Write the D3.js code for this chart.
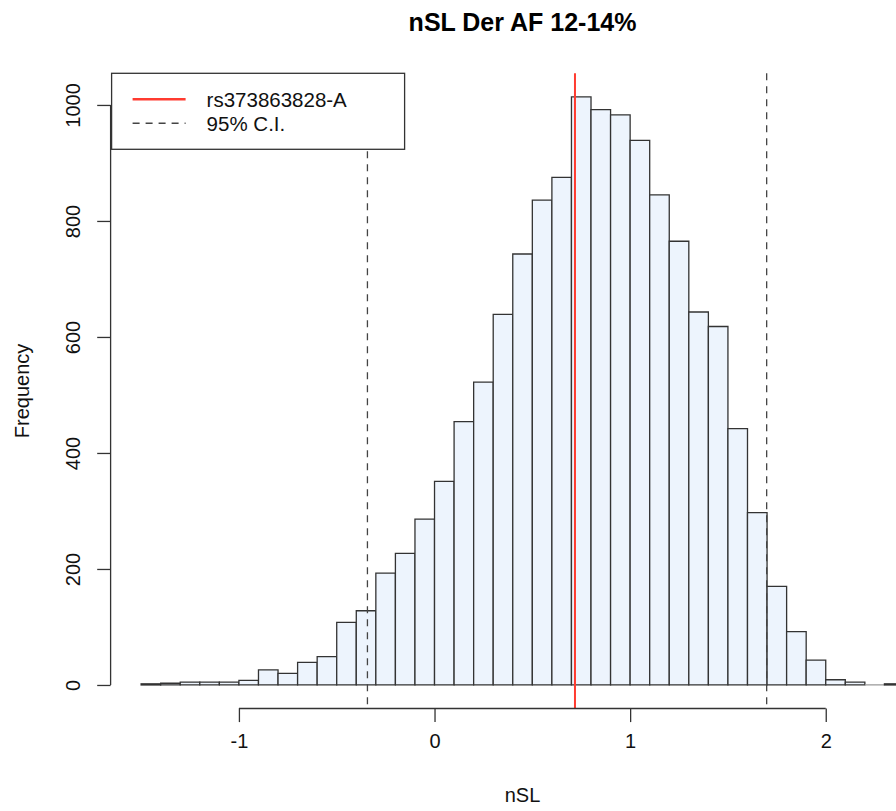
<!DOCTYPE html>
<html>
<head>
<meta charset="utf-8">
<script src="https://cdn.jsdelivr.net/npm/d3@7"></script>
<style>
  body { margin: 0; background: #fff; }
  svg { display: block; font-family: "Liberation Sans", Arial, Helvetica, sans-serif; }
</style>
</head>
<body>
<svg id="chart"></svg>
<script>
// histogram data: 0.1 wide bins starting at -1.5
const binStart = -1.5;
const binWidth = 0.1;
const counts = [2, 3, 5, 5, 5, 8, 26, 20, 39, 49, 108, 128, 193, 227, 286, 351, 454, 522,
                639, 743, 836, 875, 1014, 992, 983, 939, 845, 765, 643, 618, 442, 297,
                170, 92, 43, 9, 5, 0, 2];
const xTicks = [-1, 0, 1, 2];
const yTicks = [0, 200, 400, 600, 800, 1000];
const snpValue = 0.718;
const ciBounds = [-0.343, 1.698];
const legendLabels = ["rs373863828-A", "95% C.I."];
const title = "nSL Der AF 12-14%";
const xLabel = "nSL";
const yLabel = "Frequency";

const config = {
    width: 896, height: 811,
    left: 110.6, right: 934.5, top: 73.3, bottom: 708.5,
    fill: "#edf4fd", stroke: "#333", red: "#ff3b30", dash: "#444"
};

const bins = counts.map((c, i) => ({x0: binStart + i * binWidth, x1: binStart + (i + 1) * binWidth, n: c}));
const xMin = bins[0].x0, xMax = bins[bins.length - 1].x1;
const yMaxC = d3.max(counts);

const svg = d3.select("#chart")
    .attr("width", config.width)
    .attr("height", config.height);

// R style 4% axis extension
const xScale = d3.scaleLinear()
    .domain([xMin - 0.04 * (xMax - xMin), xMax + 0.04 * (xMax - xMin)])
    .range([config.left, config.right]);
const yScale = d3.scaleLinear()
    .domain([-0.04 * yMaxC, 1.04 * yMaxC])
    .range([config.bottom, config.top]);

// bars as closed paths so empty bins still show a line at zero (like R)
svg.append("g").selectAll("path")
    .data(bins)
    .join("path")
    .attr("d", d => {
        const p = d3.path();
        p.rect(xScale(d.x0), yScale(d.n), xScale(d.x1) - xScale(d.x0), yScale(0) - yScale(d.n));
        return p.toString();
    })
    .attr("fill", config.fill)
    .attr("stroke", d => d.n === 0 ? "#999" : config.stroke)
    .attr("stroke-width", 1.3);

// vertical reference lines
svg.append("g").selectAll("line")
    .data(ciBounds)
    .join("line")
    .attr("x1", d => xScale(d)).attr("x2", d => xScale(d))
    .attr("y1", config.top).attr("y2", config.bottom)
    .attr("stroke", config.dash)
    .attr("stroke-width", 1.3)
    .attr("stroke-dasharray", "7,6");

svg.append("line")
    .attr("x1", xScale(snpValue)).attr("x2", xScale(snpValue))
    .attr("y1", config.top).attr("y2", config.bottom)
    .attr("stroke", config.red)
    .attr("stroke-width", 2);

// x axis
const xAxis = d3.axisBottom(xScale).tickValues(xTicks).tickSize(13.6).tickPadding(12).tickFormat(d => String(d));
const xAxisG = svg.append("g")
    .attr("transform", `translate(0, ${config.bottom})`)
    .call(xAxis);
xAxisG.select(".domain").remove();
xAxisG.append("line")
    .attr("x1", xScale(xTicks[0])).attr("x2", xScale(xTicks[xTicks.length - 1]))
    .attr("stroke", "#333").attr("stroke-width", 1.3);
xAxisG.selectAll(".tick line").attr("stroke", "#333").attr("stroke-width", 1.3);
xAxisG.selectAll(".tick text")
    .attr("font-size", 20).attr("fill", "#111")
    .attr("font-family", "Liberation Sans, Arial, sans-serif");

// y axis
const yAxis = d3.axisLeft(yScale).tickValues(yTicks).tickSize(13.4).tickFormat(d => String(d));
const yAxisG = svg.append("g")
    .attr("transform", `translate(${config.left}, 0)`)
    .call(yAxis);
yAxisG.select(".domain").remove();
yAxisG.append("line")
    .attr("y1", yScale(yTicks[0])).attr("y2", yScale(yTicks[yTicks.length - 1]))
    .attr("stroke", "#333").attr("stroke-width", 1.3);
yAxisG.selectAll(".tick line").attr("stroke", "#333").attr("stroke-width", 1.3);
yAxisG.selectAll(".tick text")
    .attr("transform", "rotate(-90)")
    .attr("x", 0).attr("y", -31)
    .attr("dy", 0)
    .attr("text-anchor", "middle")
    .attr("font-size", 20).attr("fill", "#111")
    .attr("font-family", "Liberation Sans, Arial, sans-serif");

// titles
const cx = (config.left + config.right) / 2;
svg.append("text")
    .attr("x", cx).attr("y", 31)
    .attr("text-anchor", "middle")
    .attr("font-size", 25).attr("font-weight", "bold")
    .text(title);
svg.append("text")
    .attr("x", cx).attr("y", 802)
    .attr("text-anchor", "middle")
    .attr("font-size", 20).attr("fill", "#111")
    .text(xLabel);
svg.append("text")
    .attr("transform", `translate(29, ${(config.top + config.bottom) / 2}) rotate(-90)`)
    .attr("text-anchor", "middle")
    .attr("font-size", 20).attr("fill", "#111")
    .text(yLabel);

// legend
const legend = svg.append("g").attr("transform", `translate(${config.left + 1}, ${config.top})`);
legend.append("rect")
    .attr("width", 293).attr("height", 76)
    .attr("fill", "#fff").attr("stroke", "#333").attr("stroke-width", 1.3);
const legendStyles = [
    {color: config.red, dash: null, width: 2.5},
    {color: config.dash, dash: "7,6", width: 1.5}
];
legendLabels.forEach((lab, i) => {
    const y = 26 + i * 24;
    legend.append("line")
        .attr("x1", 21).attr("x2", 74).attr("y1", y).attr("y2", y)
        .attr("stroke", legendStyles[i].color)
        .attr("stroke-width", legendStyles[i].width)
        .attr("stroke-dasharray", legendStyles[i].dash);
    legend.append("text")
        .attr("x", 95).attr("y", y + 7.5)
        .attr("font-size", 20.5).attr("fill", "#111")
        .text(lab);
});
</script>
</body>
</html>
